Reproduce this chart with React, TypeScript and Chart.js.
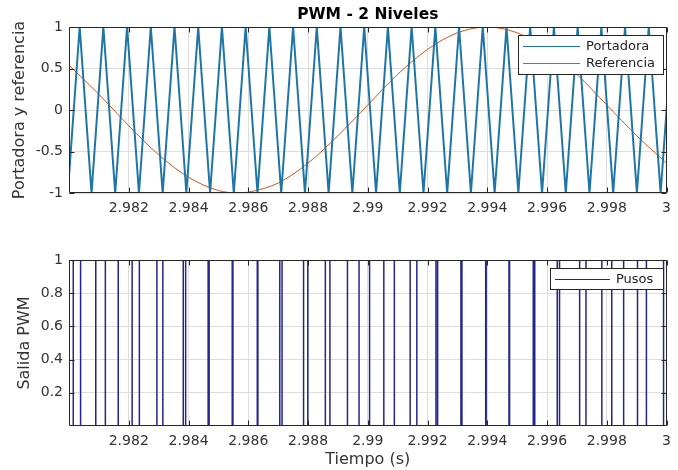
import React, { useEffect, useRef } from "react";
import { Chart, registerables } from "chart.js";

Chart.register(...registerables);

const FONT = '"DejaVu Sans", "Liberation Sans", sans-serif';
const TEXT = "#333333";
const AXIS = "#262626";
const GRID = "#dedede";

// ---- data ----
const xMin = 2.98;
const xMax = 3.0;
const xTickValues = [2.982, 2.984, 2.986, 2.988, 2.99, 2.992, 2.994, 2.996, 2.998, 3.0];
const topYTicks = [-1, -0.5, 0, 0.5, 1];
const bottomYTicks = [0.2, 0.4, 0.6, 0.8, 1];

// carrier (Portadora) triangle vertices
const carrierTimes = [
  2.97996, 2.980357, 2.980754, 2.98115, 2.981547, 2.981944, 2.982341, 2.982738,
  2.983135, 2.983531, 2.983928, 2.984325, 2.984722, 2.985119, 2.985516, 2.985912,
  2.986309, 2.986706, 2.987103, 2.9875, 2.987897, 2.988293, 2.98869, 2.989087,
  2.989484, 2.989881, 2.990278, 2.990674, 2.991071, 2.991468, 2.991865, 2.992262,
  2.992658, 2.993055, 2.993452, 2.993849, 2.994246, 2.994643, 2.99504, 2.995436,
  2.995833, 2.99623, 2.996627, 2.997024, 2.997421, 2.997817, 2.998214, 2.998611,
  2.999008, 2.999405, 2.999802, 3.000198,
];
const carrierValues = [
  -1, 1, -1, 1, -1, 1, -1, 1, -1, 1, -1, 1, -1, 1, -1, 1,
  -1, 1, -1, 1, -1, 1, -1, 1, -1, 1, -1, 1, -1, 1, -1, 1,
  -1, 1, -1, 1, -1, 1, -1, 1, -1, 1, -1, 1, -1, 1, -1, 1,
  -1, 1, -1, 1,
];

// reference (Referencia) sine, read every 1 ms
const refTimes = [
  2.98, 2.981, 2.982, 2.983, 2.984, 2.985, 2.9857, 2.986, 2.987, 2.988, 2.989,
  2.99, 2.991, 2.992, 2.993, 2.994, 2.995, 2.996, 2.997, 2.998, 2.999, 3.0,
];
const refValues = [
  0.54, 0.19, -0.19, -0.54, -0.81, -0.97, -1.0, -0.99, -0.88, -0.64, -0.31,
  0.06, 0.43, 0.73, 0.93, 1.0, 0.93, 0.73, 0.43, 0.06, -0.31, -0.64,
];

// PWM output (Pusos): switching instants and level after each one
const pwmTimes = [
  2.98, 2.980143, 2.980388, 2.980896, 2.981217, 2.981648, 2.982113, 2.982355,
  2.982942, 2.983141, 2.983824, 2.983904, 2.984657, 2.98469, 2.985463, 2.985486,
  2.986302, 2.986322, 2.987055, 2.987131, 2.987851, 2.987993, 2.98858, 2.988733,
  2.98932, 2.989708, 2.99006, 2.990537, 2.990889, 2.991419, 2.991642, 2.992282,
  2.992338, 2.993118, 2.993151, 2.993947, 2.993963, 2.994726, 2.994746, 2.995539,
  2.995589, 2.996342, 2.996418, 2.997091, 2.997303, 2.997834, 2.998166, 2.998564,
  2.999028, 2.999326, 2.9999, 3.0,
];
const pwmLevels = [
  1, 0, 1, 0, 1, 0, 1, 0, 1, 0, 1, 0, 1, 0, 1, 0,
  1, 0, 1, 0, 1, 0, 1, 0, 1, 0, 1, 0, 1, 0, 1, 0,
  1, 0, 1, 0, 1, 0, 1, 0, 1, 0, 1, 0, 1, 0, 1, 0,
  1, 0, 1, 1,
];

function fmt(v: number | string) {
  return String(parseFloat(Number(v).toFixed(4)));
}

const framePlugin = {
  id: "frame",
  afterDatasetsDraw(chart: any) {
    const { ctx, chartArea: a, scales } = chart;
    const L = Math.round(a.left) + 0.5;
    const R = Math.round(a.right) - 0.5;
    const T = Math.round(a.top) + 0.5;
    const B = Math.round(a.bottom) - 0.5;
    ctx.save();
    ctx.strokeStyle = AXIS;
    ctx.lineWidth = 1;
    ctx.beginPath();
    ctx.rect(L, T, R - L, B - T);
    const tl = 5;
    scales.x.ticks.forEach((t: any) => {
      const px = Math.round(scales.x.getPixelForValue(t.value)) + 0.5;
      ctx.moveTo(px, B);
      ctx.lineTo(px, B - tl);
      ctx.moveTo(px, T);
      ctx.lineTo(px, T + tl);
    });
    scales.y.ticks.forEach((t: any) => {
      const py = Math.round(scales.y.getPixelForValue(t.value)) + 0.5;
      ctx.moveTo(L, py);
      ctx.lineTo(L + tl, py);
      ctx.moveTo(R, py);
      ctx.lineTo(R - tl, py);
    });
    ctx.stroke();
    ctx.restore();
  },
};

const boxLegendPlugin = {
  id: "boxLegend",
  afterDraw(chart: any, _args: any, opts: any) {
    if (!opts || !opts.box) return;
    const ctx = chart.ctx;
    const [bx, by, bw, bh] = opts.box;
    ctx.save();
    ctx.fillStyle = "#ffffff";
    ctx.fillRect(bx, by, bw, bh);
    ctx.strokeStyle = AXIS;
    ctx.lineWidth = 1;
    ctx.strokeRect(bx + 0.5, by + 0.5, bw - 1, bh - 1);
    ctx.font = `13px ${FONT}`;
    ctx.textBaseline = "middle";
    ctx.textAlign = "left";
    chart.data.datasets.forEach((ds: any, i: number) => {
      const y = opts.rows[i];
      ctx.beginPath();
      ctx.strokeStyle = ds.borderColor;
      ctx.lineWidth = 1;
      ctx.moveTo(opts.lineFrom, y);
      ctx.lineTo(opts.lineTo, y);
      ctx.stroke();
      ctx.fillStyle = "#222222";
      ctx.fillText(ds.label, opts.textX, y);
    });
    ctx.restore();
  },
};

function xScale(height: number, titleText?: string) {
  return {
    type: "linear" as const,
    min: xMin,
    max: xMax,
    afterBuildTicks: (s: any) => {
      s.ticks = xTickValues.map((value) => ({ value }));
    },
    afterFit: (s: any) => {
      s.height = height;
    },
    ticks: {
      autoSkip: false,
      maxRotation: 0,
      padding: 7,
      color: TEXT,
      font: { family: FONT, size: 14 },
      callback: (v: any) => fmt(v),
    },
    grid: { color: GRID, drawTicks: false, lineWidth: 1 },
    border: { display: false },
    title: {
      display: !!titleText,
      text: titleText || "",
      color: TEXT,
      font: { family: FONT, size: 16 },
      padding: { top: 0, bottom: 1 },
    },
  };
}

function yScale(min: number, max: number, tickVals: number[], titleText: string, titlePad: number) {
  return {
    type: "linear" as const,
    min,
    max,
    afterBuildTicks: (s: any) => {
      s.ticks = tickVals.map((value) => ({ value }));
    },
    afterFit: (s: any) => {
      s.width = 69;
    },
    ticks: {
      padding: 6,
      color: TEXT,
      font: { family: FONT, size: 14 },
      callback: (v: any) => fmt(v),
    },
    grid: { color: GRID, drawTicks: false, lineWidth: 1 },
    border: { display: false },
    title: {
      display: true,
      text: titleText,
      color: TEXT,
      font: { family: FONT, size: 16 },
      padding: { top: titlePad, bottom: 0 },
    },
  };
}

export default function App() {
  const topRef = useRef<HTMLCanvasElement | null>(null);
  const botRef = useRef<HTMLCanvasElement | null>(null);

  useEffect(() => {
    if (!topRef.current || !botRef.current) return;

    const top = new Chart(topRef.current, {
      type: "line",
      data: {
        datasets: [
          {
            label: "Portadora",
            data: carrierTimes.map((t, i) => ({ x: t, y: carrierValues[i] })),
            borderColor: "#1f76a6",
            borderWidth: 2,
            pointRadius: 0,
            tension: 0,
          },
          {
            label: "Referencia",
            data: refTimes.map((t, i) => ({ x: t, y: refValues[i] })),
            borderColor: "#D95319",
            borderWidth: 1,
            pointRadius: 0,
            cubicInterpolationMode: "monotone",
          },
        ],
      },
      options: {
        responsive: false,
        maintainAspectRatio: false,
        animation: false,
        events: [],
        layout: { padding: { left: 0, right: 6, top: 0, bottom: 0 } },
        plugins: {
          legend: { display: false },
          tooltip: { enabled: false },
          title: {
            display: true,
            text: "PWM - 2 Niveles",
            fullSize: false,
            color: "#000000",
            font: { family: FONT, size: 15.5, weight: "bold" },
            padding: { top: 6, bottom: 2.4 },
          },
          boxLegend: {
            box: [518, 35, 146, 40],
            rows: [46.5, 63.5],
            lineFrom: 523,
            lineTo: 580,
            textX: 586,
          },
        } as any,
        scales: {
          x: xScale(42) as any,
          y: yScale(-1, 1, topYTicks, "Portadora y referencia", 10) as any,
        },
      },
      plugins: [framePlugin, boxLegendPlugin],
    });

    const bottom = new Chart(botRef.current, {
      type: "line",
      data: {
        datasets: [
          {
            label: "Pusos",
            data: pwmTimes.map((t, i) => ({ x: t, y: pwmLevels[i] })),
            borderColor: "#24248e",
            borderWidth: 1.5,
            pointRadius: 0,
            stepped: "before",
          },
        ],
      },
      options: {
        responsive: false,
        maintainAspectRatio: false,
        animation: false,
        events: [],
        layout: { padding: { left: 0, right: 6, top: 25, bottom: 0 } },
        plugins: {
          legend: { display: false },
          tooltip: { enabled: false },
          boxLegend: {
            box: [550, 33, 114, 22],
            rows: [44.5],
            lineFrom: 555,
            lineTo: 610,
            textX: 616,
          },
        } as any,
        scales: {
          x: xScale(44, "Tiempo (s)") as any,
          y: yScale(0, 1, bottomYTicks, "Salida PWM", 15) as any,
        },
      },
      plugins: [framePlugin, boxLegendPlugin],
    });

    return () => {
      top.destroy();
      bottom.destroy();
    };
  }, []);

  return (
    <div
      style={{
        position: "fixed",
        left: 0,
        top: 0,
        width: 678,
        height: 470,
        background: "#ffffff",
      }}
    >
      <canvas ref={topRef} width={678} height={235} style={{ display: "block", width: 678, height: 235 }} />
      <canvas ref={botRef} width={678} height={235} style={{ display: "block", width: 678, height: 235 }} />
    </div>
  );
}
